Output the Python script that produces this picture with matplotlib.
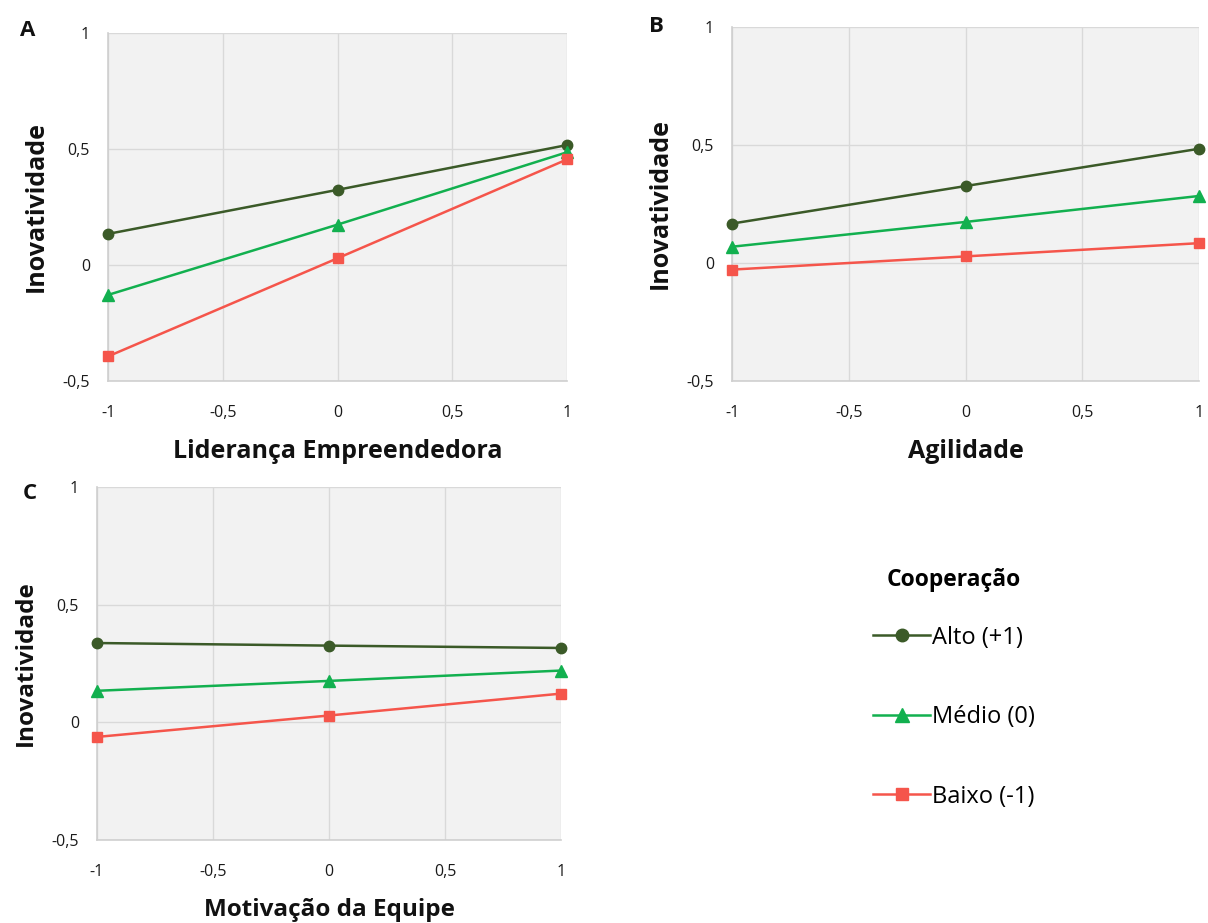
import matplotlib
matplotlib.use("Agg")
import matplotlib.pyplot as plt
from matplotlib.ticker import FuncFormatter

plt.rcParams['font.family'] = ['Open Sans', 'DejaVu Sans']

x_vals = [-1, 0, 1]
series_names = ["Alto (+1)", "Médio (0)", "Baixo (-1)"]

# Panel A: Liderança Empreendedora
a_alto = [0.134, 0.324, 0.517]
a_medio = [-0.129, 0.174, 0.486]
a_baixo = [-0.394, 0.029, 0.455]
# Panel B: Agilidade
b_alto = [0.167, 0.326, 0.484]
b_medio = [0.069, 0.174, 0.284]
b_baixo = [-0.028, 0.028, 0.084]
# Panel C: Motivação da Equipe
c_alto = [0.337, 0.326, 0.316]
c_medio = [0.134, 0.176, 0.220]
c_baixo = [-0.062, 0.029, 0.122]

x_ticks = [-1, -0.5, 0, 0.5, 1]
y_ticks = [-0.5, 0, 0.5, 1]

colors = ["#3b5a28", "#12b04f", "#f5554b"]
markers = ["o", "^", "s"]

W, H = 1208, 923
fig = plt.figure(figsize=(W / 100, H / 100), dpi=100)


def rect(l, r, t, b):
    return [l / W, 1 - b / H, (r - l) / W, (b - t) / H]


def fmt(v, pos):
    if abs(v - round(v)) < 1e-9:
        return "%d" % round(v)
    return ("%g" % v).replace(".", ",")


panels = [
    (rect(108, 567, 33, 381), (a_alto, a_medio, a_baixo), "Liderança Empreendedora", "A", (28, 30), 18),
    (rect(732, 1199, 27, 381), (b_alto, b_medio, b_baixo), "Agilidade", "B", (656, 27), 18),
    (rect(97, 561, 487, 840), (c_alto, c_medio, c_baixo), "Motivação da Equipe", "C", (30, 494), 17.5),
]

handles = []
for pos, data, xlabel, letter, lpos, lfs in panels:
    ax = fig.add_axes(pos)
    ax.set_facecolor("#f2f2f2")
    for ys, c, m, name in zip(data, colors, markers, series_names):
        ln, = ax.plot(x_vals, ys, color=c, marker=m, markersize=7.5 if m != "^" else 8,
                      linewidth=1.8, label=name, clip_on=False, zorder=3)
        if len(handles) < 3:
            handles.append(ln)
    ax.set_xlim(-1, 1)
    ax.set_ylim(-0.5, 1)
    ax.set_xticks(x_ticks)
    ax.set_yticks(y_ticks)
    ax.xaxis.set_major_formatter(FuncFormatter(fmt))
    ax.yaxis.set_major_formatter(FuncFormatter(fmt))
    ax.grid(True, color="#d9d9d9", linewidth=1.0, zorder=0)
    ax.set_axisbelow(True)
    for s in ["top", "right"]:
        ax.spines[s].set_visible(False)
    for s in ["left", "bottom"]:
        ax.spines[s].set_color("#cfcfcf")
        ax.spines[s].set_linewidth(1.2)
    ax.tick_params(axis="both", length=0, labelsize=11.5, labelcolor="#1a1a1a")
    ax.tick_params(axis="x", pad=17)
    ax.tick_params(axis="y", pad=13)
    ax.set_xlabel(xlabel, fontsize=lfs, fontweight="bold", labelpad=13, color="#111111")
    ax.set_ylabel("Inovatividade", fontsize=lfs, fontweight="bold", labelpad=10, color="#111111")
    fig.text(lpos[0] / W, 1 - lpos[1] / H, letter, fontsize=16, fontweight="bold",
             ha="center", va="center", color="#111111")

leg = fig.legend(handles, series_names, title="Cooperação", loc="upper left",
                 bbox_to_anchor=(852 / W, 1 - 547 / H), frameon=False, fontsize=17,
                 labelspacing=2.35, handlelength=2.4, handletextpad=0.1, markerscale=1.2,
                 title_fontproperties={"weight": "bold", "size": 16.5})
leg._legend_box.align = "center"
leg._legend_box.sep = 24

fig.savefig("out.png", dpi=100)
